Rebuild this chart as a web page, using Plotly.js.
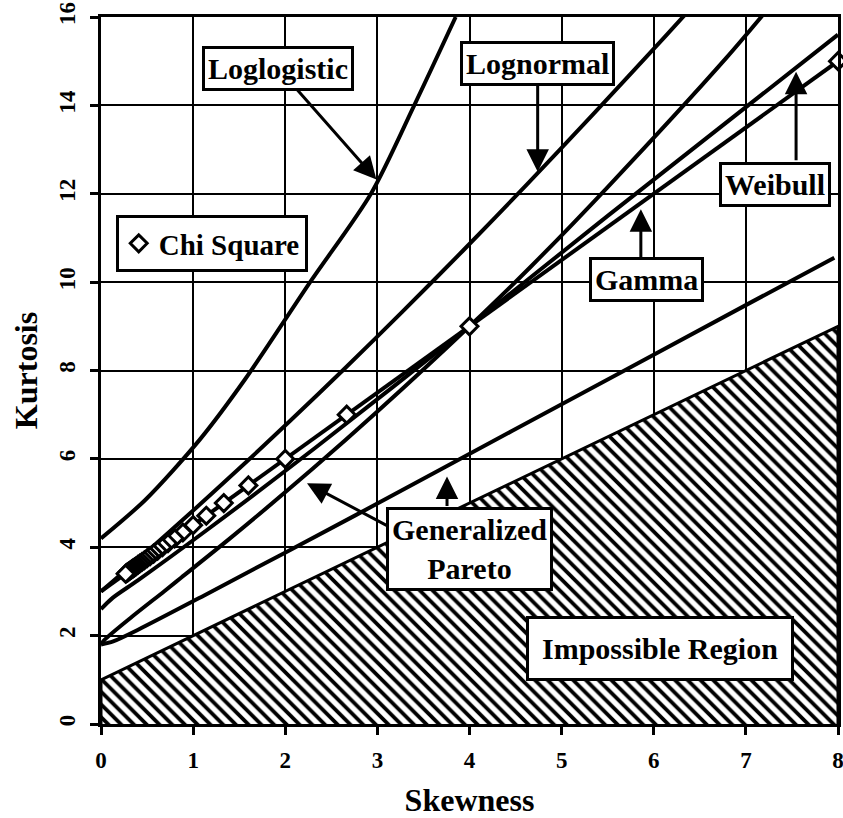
<!DOCTYPE html>
<html>
<head>
<meta charset="utf-8">
<script src="https://cdn.plot.ly/plotly-3.0.1.min.js"></script>
<style>html,body{margin:0;padding:0;background:#fff;}#chart{width:843px;height:818px;}</style>
</head>
<body>
<div id="chart"></div>
<script>
// Impossible region (kurtosis < skewness + 1)
const impX = [0, 0, 8, 8];
const impY = [0, 1, 9, 0];
// Loglogistic
const llX = [0, 0.48, 1.07, 1.56, 2.27, 2.93, 3.40, 3.85];
const llY = [4.2, 5.07, 6.43, 7.79, 10.0, 12.0, 14.0, 16.0];
// Lognormal
const lnX = [0, 0.465, 0.961, 1.488, 2.048, 2.64, 3.267, 3.928, 4.624, 5.356, 6.125, 6.443];
const lnY = [3, 3.838, 4.756, 5.758, 6.85, 8.035, 9.32, 10.71, 12.21, 13.83, 15.56, 16.29];
// Gamma
const gamX = [0, 8];
const gamY = [3, 15];
// Weibull
const wbX = [0, 0.13, 0.40, 1.15, 2.32, 4, 5.5, 8];
const wbY = [2.6, 2.86, 3.25, 4.39, 6.24, 9, 11.5, 15.6];
// Generalized Pareto (upper branch)
const gpuX = [0, 0.036, 0.32, 0.684, 0.869, 1.4, 2.30, 3.00, 4, 4.67, 5.49, 6.79, 7.31];
const gpuY = [1.8, 1.90, 2.4, 3.0, 3.31, 4.2, 5.78, 7.07, 9, 10.36, 12.13, 15.08, 16.36];
// Generalized Pareto (lower branch)
const gplX = [0, 0.132, 0.408, 1.12, 2.75, 4.46, 7.08, 7.96];
const gplY = [1.8, 1.87, 2.14, 2.91, 4.71, 6.63, 9.57, 10.55];
// Chi Square points
const chiX = [8, 4, 2.667, 2, 1.6, 1.333, 1.143, 1, 0.889, 0.8, 0.727, 0.667, 0.615, 0.571, 0.533,
              0.5, 0.471, 0.444, 0.421, 0.4, 0.381, 0.364, 0.348, 0.333, 0.32, 0.308, 0.296, 0.286, 0.276, 0.267];
const chiY = [15, 9, 7, 6, 5.4, 5, 4.714, 4.5, 4.333, 4.2, 4.091, 4, 3.923, 3.857, 3.8,
              3.75, 3.706, 3.667, 3.632, 3.6, 3.571, 3.545, 3.522, 3.5, 3.48, 3.462, 3.444, 3.429, 3.414, 3.4];

const FONT = "'Liberation Serif', 'Times New Roman', Times, serif";
const LW = 4;
const lineTrace = (x, y, name, shape) => ({
  x, y, name, type: 'scatter', mode: 'lines', showlegend: false, hoverinfo: 'skip',
  line: {color: 'black', width: LW, shape: shape || 'linear', smoothing: 0.8}
});

const traces = [
  {x: impX, y: impY, type: 'scatter', mode: 'lines', fill: 'toself', showlegend: false,
   name: 'Impossible Region', hoverinfo: 'skip',
   line: {color: 'black', width: 3},
   fillcolor: 'white',
   fillpattern: {shape: '\\', size: 9, solidity: 0.42, fgcolor: 'black', bgcolor: 'white'}},
  lineTrace(gplX, gplY, 'Generalized Pareto (lower)', 'spline'),
  lineTrace(gpuX, gpuY, 'Generalized Pareto', 'spline'),
  lineTrace(wbX, wbY, 'Weibull', 'spline'),
  lineTrace(lnX, lnY, 'Lognormal', 'spline'),
  lineTrace(llX, llY, 'Loglogistic', 'spline'),
  lineTrace(gamX, gamY, 'Gamma'),
  {x: chiX, y: chiY, type: 'scatter', mode: 'markers', name: '<b>Chi Square</b>',
   cliponaxis: false,
   marker: {symbol: 'diamond', size: 13, color: 'white', line: {color: 'black', width: 3}}}
];

const ARROW = {arrowhead: 2, arrowsize: 1.5, arrowwidth: 3, arrowcolor: 'black'};
const boxAnn = (x, y, text, extra) => Object.assign({
  x, y, xref: 'x', yref: 'y', text: '<b>' + text + '</b>',
  font: {family: FONT, size: 30, color: 'black'},
  bgcolor: 'white', bordercolor: 'black', borderwidth: 3, borderpad: 3,
  showarrow: true
}, ARROW, extra);
const arrowOnly = (x, y, ax, ay) => Object.assign(
  {x, y, xref: 'x', yref: 'y', text: ' ', showarrow: true, ax, ay}, ARROW);

const annotations = [
  boxAnn(2.99, 12.32, 'Loglogistic', {ax: -98, ay: -111}),
  boxAnn(4.74, 12.5, 'Lognormal', {ax: 0, ay: -108}),
  arrowOnly(7.545, 14.76, 0, 97),
  boxAnn(7.316, 12.2, 'Weibull', {showarrow: false}),
  arrowOnly(5.86, 11.65, 0, 60),
  boxAnn(5.916, 10.07, 'Gamma', {showarrow: false}),
  arrowOnly(3.756, 5.6, 0, 38),
  arrowOnly(2.236, 5.45, 83, 44),
  boxAnn(4.005, 3.96, 'Generalized<br>Pareto', {showarrow: false}),
  boxAnn(6.07, 1.70, 'Impossible Region', {showarrow: false, borderpad: 13})
];

const axisCommon = {
  showgrid: true, gridcolor: 'black', gridwidth: 2,
  showline: true, linecolor: 'black', linewidth: 3, mirror: true,
  zeroline: false, ticks: 'outside', ticklen: 8, tickwidth: 3, tickcolor: 'black',
  tickfont: {family: FONT, size: 23, color: 'black'},
  tickprefix: '<b>', ticksuffix: '</b>',
  ticklabeloverflow: 'allow',
  fixedrange: true
};

const layout = {
  width: 843, height: 818,
  margin: {l: 101, r: 5, t: 17, b: 94},
  paper_bgcolor: 'white', plot_bgcolor: 'white',
  font: {family: FONT, color: 'black'},
  xaxis: Object.assign({}, axisCommon, {
    range: [0, 8], dtick: 1, tick0: 0, ticklabelstandoff: 5,
    title: {text: '<b>Skewness</b>', font: {family: FONT, size: 32, color: 'black'}, standoff: 18}
  }),
  yaxis: Object.assign({}, axisCommon, {
    range: [0, 16], dtick: 2, tick0: 0, tickangle: -90, ticklabelstandoff: 6,
    title: {text: '<b>Kurtosis</b>', font: {family: FONT, size: 32, color: 'black'}, standoff: 8}
  }),
  showlegend: true,
  legend: {
    x: 0.02, y: 0.72, xanchor: 'left', yanchor: 'top',
    bgcolor: 'white', bordercolor: 'black', borderwidth: 3,
    font: {family: FONT, size: 29, color: 'black'}
  },
  annotations
};

Plotly.newPlot('chart', traces, layout, {displayModeBar: false, staticPlot: true});
</script>
</body>
</html>
